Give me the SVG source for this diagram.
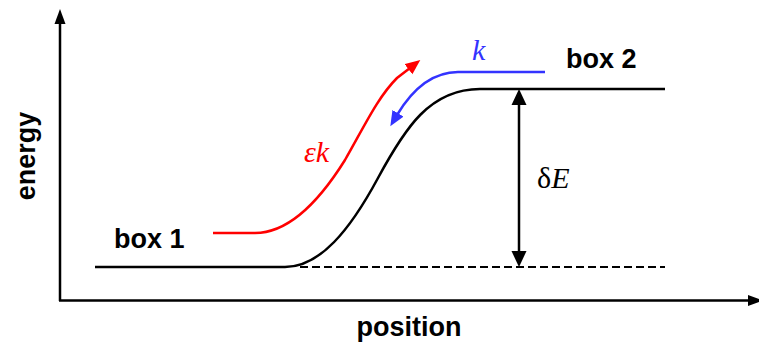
<svg xmlns="http://www.w3.org/2000/svg" width="759" height="349" viewBox="0 0 759 349">
<style>
.lbl{font-family:"Liberation Sans",Arial,sans-serif;font-weight:bold;font-size:27px;fill:#000}
.math{font-family:"Liberation Serif","DejaVu Serif",serif;font-size:30px}
.ln{fill:none;stroke-width:2.5}
</style>
<defs>
<marker id="arR" markerUnits="userSpaceOnUse" markerWidth="16" markerHeight="14" refX="2" refY="6.5" orient="auto"><path d="M0,0 L15,6.5 L0,13 z" fill="#ff0000"/></marker>
<marker id="arB" markerUnits="userSpaceOnUse" markerWidth="16" markerHeight="14" refX="2" refY="6.5" orient="auto"><path d="M0,0 L15,6.5 L0,13 z" fill="#3333ff"/></marker>
</defs>
<g id="axes">
<line x1="60" y1="301" x2="60" y2="22" stroke="#000" stroke-width="2.5"/>
<polygon points="60,9 54.5,24 65.5,24" fill="#000"/>
<line x1="59" y1="300.5" x2="748" y2="300.5" stroke="#000" stroke-width="2.5"/>
<polygon points="763,300.5 748,295 748,306" fill="#000"/>
</g>
<g id="energy-curve">
<path class="ln" stroke="#000" d="M95,267 H285 C320,267 350,230 378,178 C405,128 430,89 480,89 H665"/>
<line x1="300" y1="267" x2="665" y2="267" stroke="#000" stroke-width="2" stroke-dasharray="8,4"/>
</g>
<g id="connectors">
<path class="ln" stroke="#ff0000" d="M213,233 H255 C290,233 320,200 345,160 C365,125 378,97 397,78 L410,68" marker-end="url(#arR)"/>
<path class="ln" stroke="#3333ff" d="M545,72 H458 C432,72 412,90 397,115" marker-end="url(#arB)"/>
<line x1="519" y1="103" x2="519" y2="253" stroke="#000" stroke-width="2.5"/>
<polygon points="519,89 511.5,105 526.5,105" fill="#000"/>
<polygon points="519,267 511.5,251 526.5,251" fill="#000"/>
</g>
<g id="box1"><text class="lbl" x="114" y="248">box 1</text></g>
<g id="box2"><text class="lbl" x="566" y="68">box 2</text></g>
<g id="label-k"><text class="math" x="472" y="60" font-style="italic" fill="#3333ff">k</text></g>
<g id="label-ek"><text class="math" x="304" y="162" font-style="italic" fill="#ff0000">εk</text></g>
<g id="label-dE"><text class="math" x="537" y="188" fill="#000">δ<tspan font-style="italic">E</tspan></text></g>
<g id="xlabel"><text class="lbl" x="409" y="336" text-anchor="middle">position</text></g>
<g id="ylabel"><text class="lbl" transform="translate(35,156) rotate(-90)" text-anchor="middle">energy</text></g>
</svg>
